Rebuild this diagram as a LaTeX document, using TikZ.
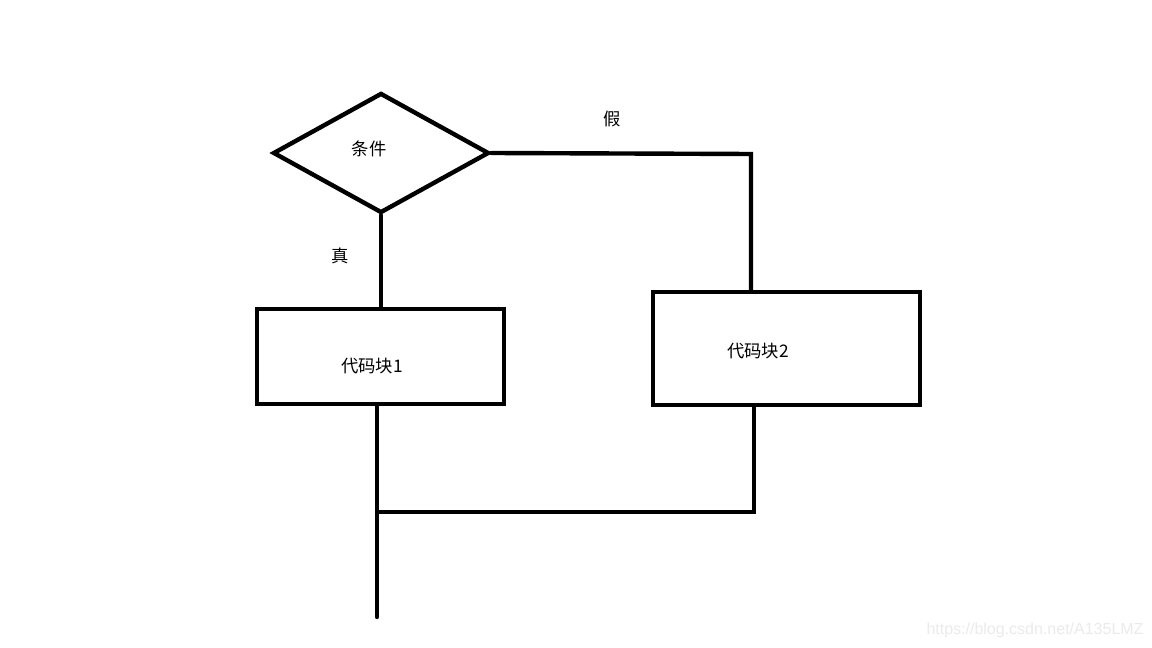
\documentclass[tikz,border=0pt]{standalone}
\usepackage{fontspec}
\newfontfamily\cjk{Noto Sans CJK SC}
\newfontfamily\wmfont{Liberation Sans}
\usetikzlibrary{shapes.geometric}
\begin{document}
\begin{tikzpicture}[x=0.75pt,y=-0.75pt,
  edge/.style={line width=3.3pt,line cap=round,line join=miter},
  box/.style={draw,line width=3.3pt,rectangle,inner sep=0pt},
  cond/.style={draw,line width=3.3pt,diamond,shape aspect=1.8,inner sep=0pt},
  lbl/.style={font=\cjk\fontsize{13pt}{15pt}\selectfont,inner sep=0pt}]
\useasboundingbox (0,0) rectangle (1152,648);
\fill[white] (0,0) rectangle (1152,648);
% shapes
\node[cond,minimum width=162pt,minimum height=90pt] (d) at (381,153) {};
\node[box,minimum width=185pt,minimum height=71pt] (r1) at (380.5,356.5) {};
\node[box,minimum width=200pt,minimum height=85pt] (r2) at (786.5,348.5) {};
% labels
\node[lbl] (t0) at (369,149) {条件};
\node[lbl] (t1) at (372,366) {代码块1};
\node[lbl] (t2) at (758,351) {代码块2};
\node[lbl] (tf) at (612,119) {假};
\node[lbl] (tt) at (340,256) {真};
% coordinates
\coordinate (c1) at (751,154);
\coordinate (j2) at (754,512);
\coordinate (e) at (377,617);
% connectors
\draw[edge] (d.south) -- (d.south |- r1.north);
\draw[edge] (d.east) -- (c1) -- (c1 |- r2.north);
\draw[edge] (e |- r1.south) -- (e);
\draw[edge] (j2 |- r2.south) -- (j2) -- (j2 -| e);
% watermark
\node[font=\wmfont\fontsize{12pt}{14pt}\selectfont,text=black!8,inner sep=0pt] (wm) at (1035,630) {https://blog.csdn.net/A135LMZ};
\end{tikzpicture}
\end{document}
